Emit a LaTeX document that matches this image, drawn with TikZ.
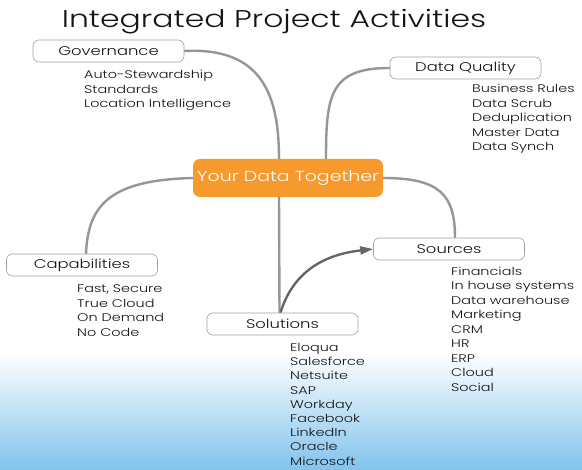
\documentclass[tikz,border=0pt]{standalone}
\usepackage{fontspec}
\setmainfont{Poppins}[UprightFont=* Light, FakeStretch=1.3]
\usetikzlibrary{arrows.meta}
\definecolor{bgblue}{RGB}{128,195,236}
\definecolor{ctrorange}{RGB}{247,154,46}
\definecolor{edgegray}{RGB}{150,150,150}
\definecolor{boxgray}{RGB}{160,160,160}
\definecolor{txt}{RGB}{20,20,20}
\pgfdeclarelayer{bg}
\pgfdeclarelayer{edges}
\pgfsetlayers{bg,edges,main}
\tikzset{
  topic/.style={draw=boxgray, line width=0.6pt, fill=white, rounded corners=6pt,
    minimum width=151pt, minimum height=22pt, inner sep=0pt, font=\fontsize{12.6}{14}\selectfont, text=txt},
  items/.style={anchor=north west, align=left, inner sep=0pt, font=\fontsize{11.1}{14.55}\selectfont, text=txt},
  link/.style={draw=edgegray, line width=2.4pt, line cap=round},
}
\begin{document}
\begin{tikzpicture}[x=1pt,y=-1pt]
\useasboundingbox (0,0) rectangle (582,470);
\begin{pgfonlayer}{bg}
\fill[white] (0,0) rectangle (582,353);
\shade[top color=white, bottom color=bgblue] (0,353) rectangle (582,470);
\end{pgfonlayer}

\node[font=\fontsize{24.2}{26}\selectfont, text=txt] (title) at (274,22) {Integrated Project Activities};

\node[fill=ctrorange, rounded corners=7pt, minimum width=190pt, minimum height=38pt, inner sep=0pt,
  text=white, font=\fontsize{14.6}{16}\selectfont] (ctr) at (288,178) {Your Data Together};

\node[topic] (gov) at (108.5,51) {Governance};
\node[topic] (dq) at (465.5,68) {Data Quality};
\node[topic] (src) at (449,249) {Sources};
\node[topic] (cap) at (82,265) {Capabilities};
\node[topic] (sol) at (282.5,324) {Solutions};

\node[items] (govi) at (84,70) {Auto-Stewardship\\Standards\\Location Intelligence};
\node[items] (dqi) at (472,84) {Business Rules\\Data Scrub\\Deduplication\\Master Data\\Data Synch};
\node[items] (srci) at (451,266.5) {Financials\\In house systems\\Data warehouse\\Marketing\\CRM\\HR\\ERP\\Cloud\\Social};
\node[items] (capi) at (77,284.5) {Fast, Secure\\True Cloud\\On Demand\\No Code};
\node[items, font=\fontsize{11.1}{14.2}\selectfont] (soli) at (290,343) {Eloqua\\Salesforce\\Netsuite\\SAP\\Workday\\Facebook\\LinkedIn\\Oracle\\Microsoft};

\begin{pgfonlayer}{edges}
\draw[link] (gov.east) .. controls (262,47) and (279,95) .. ([xshift=-9pt]ctr.north);
\draw[link] ([xshift=38pt]ctr.north) .. controls (326,95) and (330,68) .. (dq.west);
\draw[link] (ctr.east) .. controls (440,178) and (455,195) .. ([xshift=6pt]src.north);
\draw[link] (ctr.west) .. controls (110,180) and (88,205) .. ([xshift=4pt]cap.north);
\draw[link] ([xshift=-9pt]ctr.south) -- ([xshift=-3pt]sol.north);
\draw[link, draw=gray!80!black, -{Triangle[length=13pt,width=8pt]}] ([xshift=-2pt]sol.north) .. controls (292,275) and (320,255) .. (src.west);
\end{pgfonlayer}
\end{tikzpicture}
\end{document}
